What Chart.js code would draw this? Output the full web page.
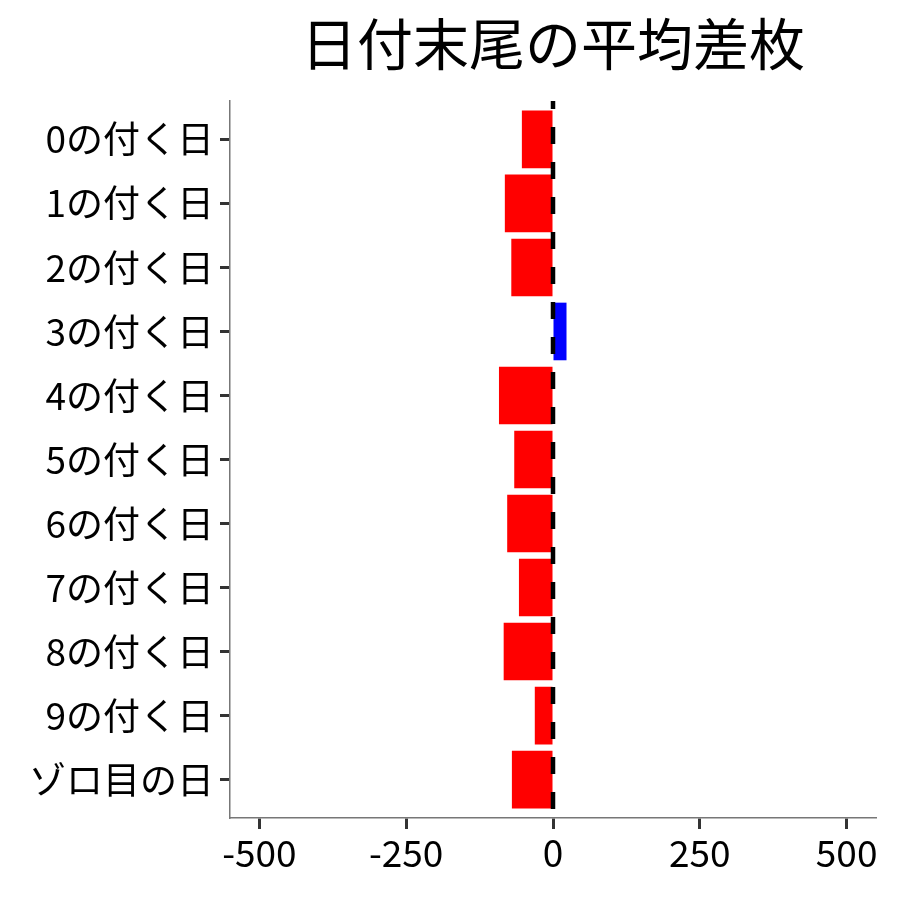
<!DOCTYPE html>
<html>
<head>
<meta charset="utf-8">
<script src="https://cdn.jsdelivr.net/npm/chart.js@4"></script>
<style>
  html, body { margin: 0; padding: 0; background: #fff; }
  #wrap { width: 900px; height: 900px; }
</style>
</head>
<body>
<div id="wrap"><canvas id="chart" width="900" height="900"></canvas></div>
<script>
const titleText = '日付末尾の平均差枚';
const categories = ['0の付く日', '1の付く日', '2の付く日', '3の付く日', '4の付く日', '5の付く日',
                    '6の付く日', '7の付く日', '8の付く日', '9の付く日', 'ゾロ目の日'];
const avgDiff = [-53, -82, -71, 23, -92, -66, -78, -58, -84, -31, -70];
const xTicks = [-500, -250, 0, 250, 500];

const FONT = '"Noto Sans CJK JP", "Noto Sans", sans-serif';

// Title centred over the panel, and the dashed zero line over the bars
const decorations = {
    id: 'decorations',
    afterDatasetsDraw(chart) {
        const { ctx, chartArea, scales } = chart;
        const x0 = scales.x.getPixelForValue(0);
        ctx.save();
        ctx.strokeStyle = '#000';
        ctx.lineWidth = 4.5;
        ctx.setLineDash([17, 18]);
        ctx.lineDashOffset = 9;
        ctx.beginPath();
        ctx.moveTo(x0, chartArea.top);
        ctx.lineTo(x0, chartArea.bottom);
        ctx.stroke();
        ctx.restore();
    },
    afterDraw(chart) {
        const { ctx, chartArea } = chart;
        ctx.save();
        ctx.fillStyle = '#000';
        ctx.font = '56px ' + FONT;
        ctx.textAlign = 'center';
        ctx.textBaseline = 'middle';
        ctx.fillText(titleText, (chartArea.left + chartArea.right) / 2, 44);
        ctx.restore();
    }
};

const ctx = document.getElementById('chart').getContext('2d');
new Chart(ctx, {
    type: 'bar',
    data: {
        datasets: [{
            data: avgDiff.map((v, i) => ({ x: v, y: i })),
            backgroundColor: avgDiff.map(v => v < 0 ? '#FF0000' : '#0000FF'),
            borderWidth: 0,
            barPercentage: 0.9,
            categoryPercentage: 1.0
        }]
    },
    options: {
        indexAxis: 'y',
        responsive: false,
        animation: false,
        layout: { padding: { top: 101, right: 24, left: 0, bottom: 0 } },
        plugins: {
            legend: { display: false },
            tooltip: { enabled: false },
            title: { display: false }
        },
        scales: {
            x: {
                type: 'linear',
                min: -550,
                max: 550,
                afterBuildTicks: scale => { scale.ticks = xTicks.map(v => ({ value: v })); },
                afterFit: scale => { scale.height = 82; },
                ticks: {
                    color: '#000',
                    font: { family: FONT, size: 37 },
                    padding: 2,
                    maxRotation: 0
                },
                grid: {
                    drawOnChartArea: false,
                    tickLength: 11,
                    tickColor: '#333',
                    tickWidth: 3
                },
                border: { display: true, color: '#777', width: 1.5 }
            },
            y: {
                type: 'linear',
                reverse: true,
                offset: false,
                min: -0.6,
                max: categories.length - 0.4,
                afterBuildTicks: scale => { scale.ticks = categories.map((c, i) => ({ value: i })); },
                afterFit: scale => { scale.width = 230; },
                ticks: {
                    color: '#000',
                    font: { family: FONT, size: 37 },
                    padding: 6,
                    callback: v => categories[v]
                },
                grid: {
                    offset: false,
                    drawOnChartArea: false,
                    tickLength: 10,
                    tickColor: '#333',
                    tickWidth: 3
                },
                border: { display: true, color: '#777', width: 1.5 }
            }
        }
    },
    plugins: [decorations]
});
</script>
</body>
</html>
